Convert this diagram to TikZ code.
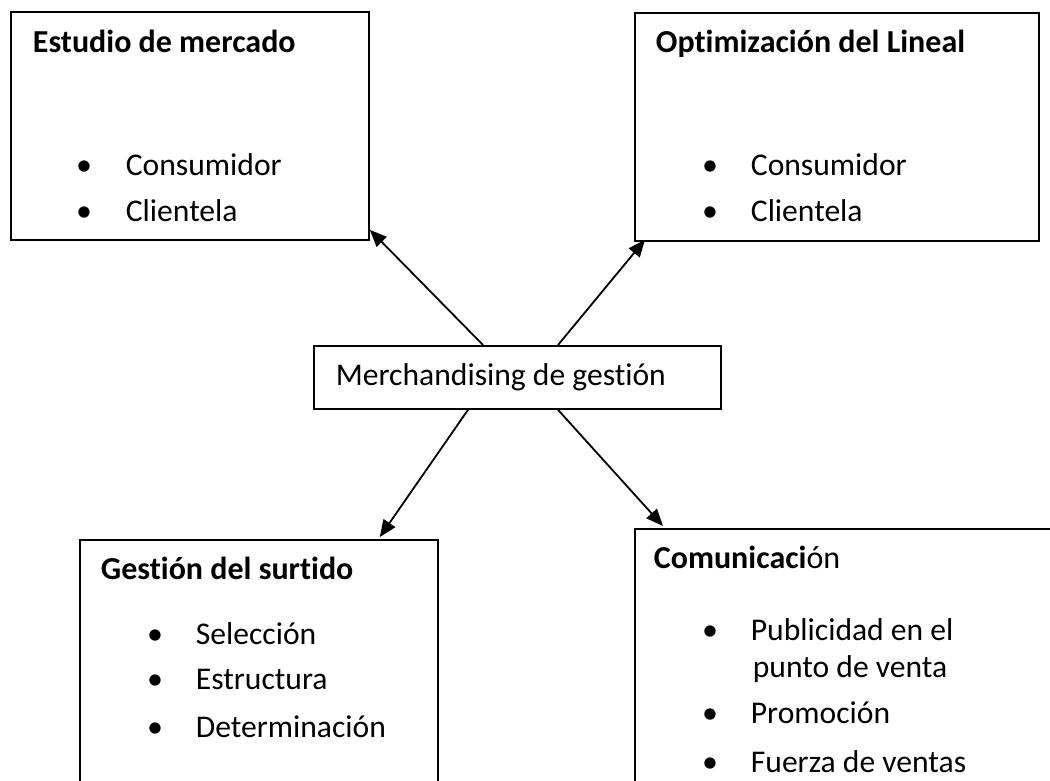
\documentclass[tikz,border=0pt]{standalone}
\usepackage{fontspec}
\setmainfont{Carlito}[Ligatures=NoCommon]
\usetikzlibrary{arrows.meta}

\begin{document}
\begin{tikzpicture}[x=1pt, y=-1pt, line width=1.8pt,
		box/.style={draw, rectangle, anchor=north west, inner sep=0pt},
		ttl/.style={anchor=base west, inner sep=0pt, font=\fontsize{32}{38}\selectfont\bfseries},
		itm/.style={anchor=base west, inner sep=0pt, font=\fontsize{31.6}{38}\selectfont},
		dot/.style={anchor=base, inner sep=0pt, font=\fontsize{32}{38}\selectfont},
		arr/.style={-{Triangle[length=17pt, width=14pt]}, line width=1.8pt}]
		\clip (0, 0) rectangle (1050, 780);
		
		\node[box, minimum width=358, minimum height=228] (est) at (10, 11) {};
		\node[box, minimum width=404, minimum height=228] (opt) at (634, 12) {};
		\node[box, minimum width=407, minimum height=63] (mg) at (313, 345) {};
		\node[box, minimum width=358, minimum height=300] (ges) at (79, 539) {};
		\node[box, minimum width=450, minimum height=300] (com) at (634, 528) {};
		
		% estudio de mercado
		\node[ttl] (est-t) at (32, 52) {Estudio de mercado};
		\node[dot] at (84, 175) {•};
		\node[itm] (est-a) at (125, 175) {Consumidor};
		\node[dot] at (84, 221) {•};
		\node[itm] (est-b) at (125, 221) {Clientela};
		
		% optimizacion del lineal
		\node[ttl] (opt-t) at (655, 52) {Optimización del Lineal};
		\node[dot] at (710, 175) {•};
		\node[itm] (opt-a) at (750, 175) {Consumidor};
		\node[dot] at (710, 221) {•};
		\node[itm] (opt-b) at (750, 221) {Clientela};
		
		% centro
		\node[itm] (mg-t) at (335, 385) {Merchandising de gestión};
		
		% gestion del surtido
		\node[ttl] (ges-t) at (100, 579) {Gestión del surtido};
		\node[dot] at (155, 644) {•};
		\node[itm] (ges-a) at (195, 644) {Selección};
		\node[dot] at (155, 689) {•};
		\node[itm] (ges-b) at (195, 689) {Estructura};
		\node[dot] at (155, 737) {•};
		\node[itm] (ges-c) at (195, 737) {Determinación};
		
		% comunicacion
		\node[ttl] (com-t) at (653, 568) {Comunicaci{\mdseries ón}};
		\node[dot] at (710, 640) {•};
		\node[itm] (com-a) at (750, 640) {Publicidad en el};
		\node[itm] (com-a2) at (752, 677) {punto de venta};
		\node[dot] at (710, 723) {•};
		\node[itm] (com-b) at (750, 723) {Promoción};
		\node[dot] at (710, 772) {•};
		\node[itm] (com-c) at (750, 772) {Fuerza de ventas};
		
		\draw[arr] ([xshift=170]mg.north west) -- ([yshift=11]est.south east);
		\draw[arr] ([xshift=245]mg.north west) -- ([xshift=11, yshift=2]opt.south west);
		\draw[arr] ([xshift=155]mg.south west) -- ([xshift=-59, yshift=2]ges.north east);
		\draw[arr] ([xshift=245]mg.south west) -- ([xshift=29, yshift=2]com.north west);
	\end{tikzpicture}
\end{document}
